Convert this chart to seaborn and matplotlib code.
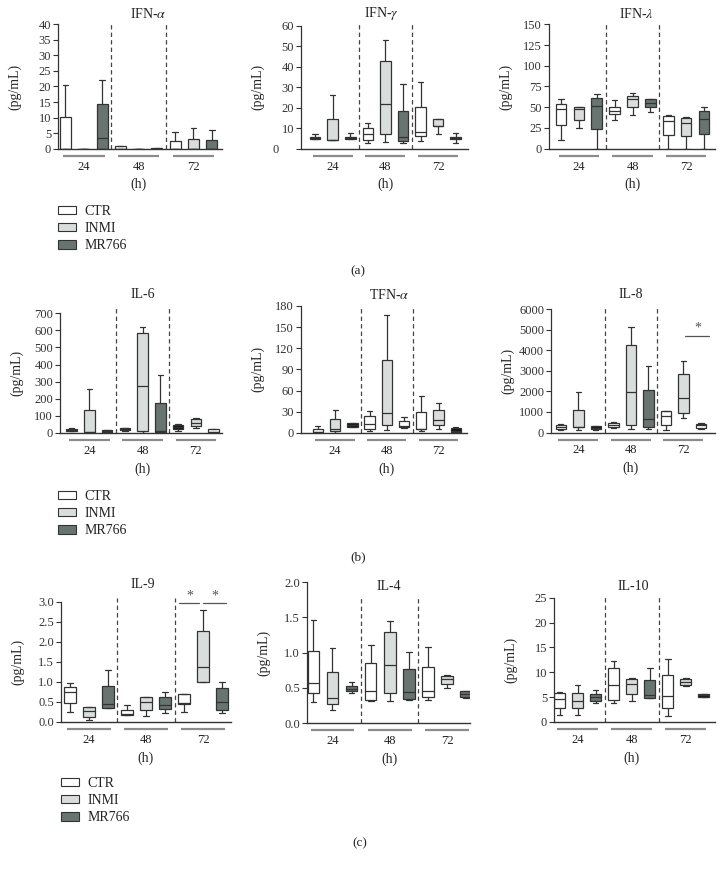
import numpy as np
import pandas as pd
import matplotlib
matplotlib.use('Agg')
import matplotlib.pyplot as plt
import matplotlib.transforms as mtransforms
from matplotlib.patches import Patch
import seaborn as sns

times = ['24', '48', '72']
groups = ['CTR', 'INMI', 'MR766']
colors = ['#ffffff', '#d9dedd', '#68746f']

# each box: [min, q1, median, q3, max]; rows = 24/48/72 h, cols = CTR/INMI/MR766
ifn_alpha = [
    [[0, 0, 0, 10.3, 20.4], [0, 0, 0, 0, 0], [0, 0, 3.4, 14.4, 22.0]],
    [[0, 0, 0, 0.8, 0.9], [0, 0, 0, 0, 0], [0, 0, 0, 0.2, 0.2]],
    [[0, 0, 0, 2.5, 5.3], [0, 0, 0, 3.1, 6.8], [0, 0, 0, 2.7, 5.9]],
]
ifn_gamma = [
    [[4.5, 4.9, 5.2, 5.9, 7.0], [4.0, 4.0, 4.1, 14.5, 26.3], [4.8, 4.9, 5.3, 5.7, 7.5]],
    [[2.9, 4.2, 7.0, 10.2, 12.4], [3.4, 7.0, 22.0, 43.0, 53.0], [2.9, 3.9, 5.7, 18.4, 31.4]],
    [[3.6, 6.2, 8.3, 20.5, 32.5], [7.0, 11.0, 11.2, 14.3, 14.3], [2.9, 4.6, 5.2, 5.9, 7.8]],
]
ifn_lambda = [
    [[11, 28, 47.5, 53.5, 59.5], [24.5, 35, 47.8, 50.7, 50.7], [0, 24.1, 51.5, 60.7, 65.5]],
    [[34.6, 41.4, 45.4, 50.7, 58.7], [40.6, 50.3, 60, 64, 67.5], [43.8, 50.7, 55.5, 59.5, 60.3]],
    [[0, 16, 33.8, 40, 40.5], [0, 15, 31, 37.5, 38], [0, 17.3, 36.2, 45, 50.7]],
]
il6 = [
    [[8, 12, 18, 25, 28], [0, 3, 5, 133, 256], [3, 6, 10, 14, 16]],
    [[10, 15, 20, 27, 30], [0, 8, 277, 582, 621], [0, 5, 8, 176, 340]],
    [[12, 20, 35, 48, 52], [30, 38, 55, 82, 88], [0, 2, 5, 22, 24]],
]
tnf_alpha = [
    [[0, 0.5, 1, 5.4, 9.5], [0, 2.5, 5.4, 20, 33], [8, 8.7, 11, 14.4, 14.6]],
    [[3, 5.9, 12, 23.8, 31], [4, 11, 27.6, 103, 167.5], [7, 8, 10, 16.5, 22]],
    [[3, 4.9, 5, 29, 52.5], [5, 11.5, 18.2, 31.7, 43], [0, 1, 3, 7, 8]],
]
il8 = [
    [[100, 148, 250, 344, 426], [100, 262, 270, 1115, 1967], [130, 148, 220, 295, 310]],
    [[200, 262, 350, 475, 490], [180, 360, 1967, 4262, 5131], [148, 279, 672, 2049, 3246]],
    [[100, 377, 787, 1033, 1050], [705, 967, 1656, 2836, 3459], [190, 197, 350, 420, 459]],
]
il9 = [
    [[0.24, 0.48, 0.74, 0.88, 0.98], [0.05, 0.13, 0.27, 0.38, 0.38], [0.34, 0.36, 0.46, 0.9, 1.3]],
    [[0.17, 0.17, 0.2, 0.31, 0.43], [0.16, 0.3, 0.51, 0.62, 0.63], [0.22, 0.33, 0.42, 0.62, 0.75]],
    [[0.25, 0.46, 0.47, 0.71, 0.71], [1.0, 1.0, 1.36, 2.27, 2.79], [0.22, 0.29, 0.51, 0.85, 1.0]],
]
il4 = [
    [[0.3, 0.43, 0.57, 1.03, 1.47], [0.19, 0.27, 0.36, 0.72, 1.07], [0.42, 0.46, 0.49, 0.53, 0.58]],
    [[0.31, 0.32, 0.45, 0.85, 1.11], [0.31, 0.43, 0.82, 1.29, 1.45], [0.33, 0.34, 0.44, 0.77, 1.01]],
    [[0.32, 0.37, 0.45, 0.8, 1.08], [0.5, 0.56, 0.62, 0.67, 0.68], [0.36, 0.37, 0.41, 0.45, 0.45]],
]
il10 = [
    [[1.5, 2.8, 4.7, 5.9, 6.0], [1.5, 2.8, 4.3, 5.9, 7.4], [3.9, 4.3, 5.0, 5.6, 6.5]],
    [[3.8, 4.5, 7.4, 10.8, 12.3], [4.3, 5.7, 7.6, 8.7, 8.8], [4.8, 4.9, 5.5, 8.4, 10.9]],
    [[1.2, 2.8, 5.3, 9.5, 12.6], [7.3, 7.5, 8.1, 8.6, 8.8], [5.1, 5.1, 5.4, 5.7, 5.7]],
]

W, H = 724, 869

# name, data, ymax, ystep, axes box px (l, t, r, b), xlim, title x px, black boxes, white boxes
panels = [
    ('IFN-$\\alpha$', ifn_alpha, 40, 5, (58, 24.3, 222, 148.7), (-0.47, 2.52), 148, [], []),
    ('IFN-$\\gamma$', ifn_gamma, 60, 10, (301, 25.7, 467.7, 148.7), (-0.6, 2.56), 382, [], []),
    ('IFN-$\\lambda$', ifn_lambda, 150, 25, (549, 24.3, 715, 148.7), (-0.56, 2.54), 636, [], []),
    ('IL-6', il6, 700, 100, (60, 313.3, 222, 432.8), (-0.55, 2.49), 143, [(0, 0), (0, 2), (1, 0), (2, 0)], [(2, 2)]),
    ('TFN-$\\alpha$', tnf_alpha, 180, 30, (301, 306, 467, 432.8), (-0.66, 2.55), 389, [(0, 2), (2, 2)], [(1, 2)]),
    ('IL-8', il8, 6000, 1000, (551, 309.3, 715, 432.5), (-0.52, 2.6), 631, [(0, 2)], [(2, 2)]),
    ('IL-9', il9, 3.0, 0.5, (61, 601.7, 231, 722), (-0.49, 2.49), 143, [], []),
    ('IL-4', il4, 2.0, 0.5, (306.7, 582.3, 470, 723), (-0.45, 2.4), 389, [], []),
    ('IL-10', il10, 25, 5, (554, 597.7, 715, 722), (-0.44, 2.54), 633, [(2, 2)], []),
]
title_y = [14, 14, 14, 295, 295, 295, 585, 586, 586]
dash_top = [24.3, 24.3, 24.3, 308, 308, 308, 598, 597, 597]

sns.set_theme(style='ticks')
plt.rcParams['font.family'] = ['Liberation Serif', 'DejaVu Serif']
plt.rcParams['mathtext.fontset'] = 'stix'
plt.rcParams['axes.edgecolor'] = '#333333'
plt.rcParams['xtick.color'] = '#222222'
plt.rcParams['ytick.color'] = '#333333'
plt.rcParams['text.color'] = '#222222'

fig = plt.figure(figsize=(W / 100, H / 100), dpi=100)

for k, (name, vals, ymax, ystep, box, xlim, tx, blacks, whites) in enumerate(panels):
    l, t, r, b = box
    ax = fig.add_axes([l / W, 1 - b / H, (r - l) / W, (b - t) / H])
    rows = []
    for ti, tm in enumerate(times):
        for gi, g in enumerate(groups):
            for v in vals[ti][gi]:
                rows.append({'time': tm, 'group': g, 'value': v})
    df = pd.DataFrame(rows)
    sns.boxplot(data=df, x='time', y='value', hue='group', order=times, hue_order=groups,
                palette=colors, saturation=1, width=1.0, gap=0.4, whis=(0, 100),
                linecolor='#333333', linewidth=0.9, fliersize=0, legend=False, ax=ax)

    # a few boxes in the original are drawn black / white
    for p in ax.patches:
        ext = p.get_path().get_extents()
        cx = (ext.x0 + ext.x1) / 2
        ti = int(round(cx))
        gi = int(round((cx - ti) * 3)) + 1
        if (ti, gi) in blacks:
            p.set_facecolor('#151515')
        elif (ti, gi) in whites:
            p.set_facecolor('#ffffff')

    ax.set_xlim(*xlim)
    ax.set_ylim(0, ymax)
    ticks = np.arange(0, ymax + ystep / 2, ystep)
    ax.set_yticks(ticks)
    if ymax <= 3:
        ax.set_yticklabels([f'{v:.1f}' for v in ticks])
    else:
        ax.set_yticklabels([f'{v:g}' for v in ticks])
    sns.despine(ax=ax)
    ax.spines['left'].set_linewidth(0.9)
    ax.spines['bottom'].set_linewidth(1.0)
    ax.tick_params(axis='y', length=3.5, width=0.8, pad=1.5, labelsize=9)
    ax.tick_params(axis='x', length=0, pad=8.5, labelsize=9)
    ax.set_xticks([0, 1, 2])
    ax.set_xticklabels(times)

    if name == 'IFN-$\\gamma$':
        # the zero label sits further out in the original
        zl = ax.get_yticklabels()[0]
        zl.set_transform(zl.get_transform() + mtransforms.ScaledTranslation(-0.15, 0, fig.dpi_scale_trans))

    wpx, hpx = r - l, b - t
    ax.set_ylabel('(pg/mL)', fontsize=10, va='center')
    ax.yaxis.set_label_coords(-43 / wpx, 0.5)
    ax.set_xlabel('(h)', fontsize=10, va='center')
    ax.xaxis.set_label_coords((1 - xlim[0]) / (xlim[1] - xlim[0]), -36 / hpx)

    # dashed separators between time points
    frac = (b - dash_top[k]) / hpx
    for xv in (0.5, 1.5):
        ax.axvline(xv, ymin=0, ymax=frac, color='#444444', lw=0.9, ls=(0, (3.5, 2.5)),
                   clip_on=False, zorder=0)

    # grey bars under each time point
    trans = mtransforms.blended_transform_factory(ax.transData, ax.transAxes) + \
        mtransforms.ScaledTranslation(0, -7 / 100, fig.dpi_scale_trans)
    for ti in range(3):
        ax.plot([ti - 0.38, ti + 0.38], [0, 0], transform=trans, color='#8c8c8c',
                lw=1.6, clip_on=False, solid_capstyle='butt')

    fig.text(tx / W, 1 - title_y[k] / H, name, ha='center', va='center', fontsize=10)

    if name == 'IL-8':
        ax.plot([2.02, 2.49], [4700, 4700], color='#555555', lw=0.9, clip_on=False)
        ax.text(2.27, 4750, '*', ha='center', va='bottom', fontsize=10, color='#555555')
    if name == 'IL-9':
        ax.plot([1.58, 1.93], [2.97, 2.97], color='#555555', lw=0.9, clip_on=False)
        ax.plot([2.0, 2.4], [2.97, 2.97], color='#555555', lw=0.9, clip_on=False)
        ax.text(1.76, 2.99, '*', ha='center', va='bottom', fontsize=10, color='#555555')
        ax.text(2.2, 2.99, '*', ha='center', va='bottom', fontsize=10, color='#555555')

handles = [Patch(facecolor=c, edgecolor='#333333', lw=0.8, label=g) for c, g in zip(colors, groups)]
for lx, ly in [(58, 205), (58, 490), (61, 777)]:
    fig.legend(handles=handles, loc='upper left', bbox_to_anchor=(lx / W, 1 - ly / H),
               frameon=False, fontsize=10, handlelength=1.3, handleheight=0.55,
               handletextpad=0.6, labelspacing=0.3, borderpad=0, borderaxespad=0)

for lab, (px, py) in zip(['(a)', '(b)', '(c)'], [(358, 271), (358, 557), (360, 843)]):
    fig.text(px / W, 1 - py / H, lab, ha='center', va='center', fontsize=9.5)

fig.savefig('out.png', dpi=100)
